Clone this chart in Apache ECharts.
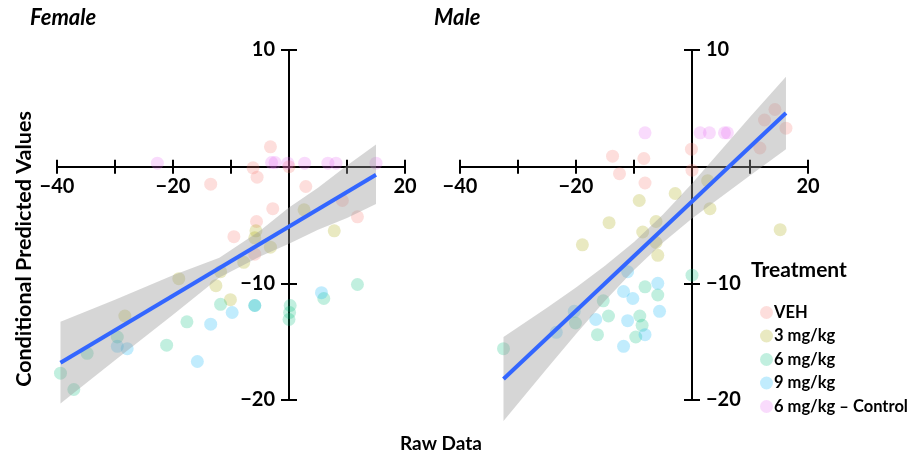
<!DOCTYPE html>
<html>
<head>
<meta charset="utf-8">
<script src="https://cdn.jsdelivr.net/npm/echarts@6/dist/echarts.min.js"></script>
<style>html,body{margin:0;padding:0;background:#fff}#c{width:920px;height:456px}</style>
</head>
<body>
<div id="c"></div>
<script>
// ---- data ----
const groups = ['VEH', '3 mg/kg', '6 mg/kg', '9 mg/kg', '6 mg/kg \u2013 Control'];
const xTicks = [-40, -20, 20];
const yTicks = [10, -10, -20];

const femVEH = [[-3.2,1.7],[-6.2,-0.1],[-5.5,-0.9],[-13.5,-1.5],[2.9,-1.7],[-2.8,-3.6],[-5.6,-4.7],[-9.5,-6.0],[9.2,-2.9],[11.8,-4.3],[-5.9,-7.5],[0,0]];
const femLow = [[2.6,-3.7],[7.8,-5.5],[-5.7,-5.5],[-5.9,-6.1],[-3.2,-6.9],[-7.8,-8.2],[-19.0,-9.6],[-12.6,-10.2],[-10.1,-11.4],[-28.3,-12.8],[-11.8,-9.0]];
const femMid = [[-11.8,-11.8],[-17.6,-13.3],[-21.1,-15.3],[-29.6,-14.6],[-34.8,-16.0],[-39.4,-17.7],[-37.1,-19.1],[0.2,-11.9],[0.1,-12.5],[0,-13.1],[11.8,-10.1],[-5.9,-11.9],[6.0,-11.3]];
const femHigh = [[-9.8,-12.5],[-13.5,-13.5],[-15.8,-16.7],[-29.6,-15.4],[-27.9,-15.6],[5.6,-10.8],[-5.9,-11.9]];
const femCtrl = [[-22.7,0.3],[-3.0,0.35],[-2.4,0.35],[-0.2,0.3],[2.7,0.3],[6.7,0.3],[8.1,0.3],[15.0,0.3]];

const maleVEH = [[-13.7,0.9],[-8.3,0.7],[-0.1,1.5],[-12.5,-0.6],[-8.1,-1.4],[0,-0.3],[11.7,1.6],[12.5,4.0],[14.3,4.9],[16.2,3.3]];
const maleLow = [[-2.9,-2.3],[-9.1,-2.9],[2.7,-1.2],[3.1,-3.6],[-14.3,-4.8],[-8.5,-5.6],[-6.2,-4.7],[-6.2,-6.5],[-5.9,-7.6],[15.2,-5.4],[-18.9,-6.7]];
const maleMid = [[0,-9.3],[-32.5,-15.6],[-20.1,-13.4],[-15.3,-11.5],[-14.4,-12.8],[-16.3,-14.4],[-9.0,-12.8],[-8.6,-13.6],[-9.7,-14.6],[-8.1,-10.3],[-5.9,-11.0]];
const maleHigh = [[-5.9,-10.0],[-11.8,-10.7],[-10.2,-11.3],[-5.6,-12.4],[-11.1,-13.2],[-16.6,-13.1],[-8.1,-14.4],[-11.8,-15.4],[-20.3,-12.4],[-23.4,-14.2],[-11.1,-9.0]];
const maleCtrl = [[-8.1,2.9],[1.4,2.9],[3.0,2.9],[5.6,2.9],[6.1,2.9]];

// fitted line and confidence band
const fitF = [[-39.4,-16.8],[15.0,-0.7]];
const bandXF = [-39.4,-30,-20,-12,-5,0,5,10,15];
const bandUF = [-13.3,-11.4,-9.3,-7.8,-5.5,-3.5,-1.8,0.1,1.9];
const bandLF = [-20.3,-16.6,-12.7,-9.5,-7.7,-6.6,-5.4,-4.4,-3.2];

const fitM = [[-32.5,-18.2],[16.2,4.6]];
const bandXM = [-32.5,-25,-20,-15,-10,-5,0,5,10,16.2];
const bandUM = [-14.6,-12.1,-10.35,-8.5,-6.45,-4.1,-1.45,1.4,4.25,7.7];
const bandLM = [-21.8,-17.3,-14.35,-11.5,-8.85,-6.5,-4.45,-2.6,-0.75,1.5];

// ---- style ----
const colors = ['rgba(248,118,109,0.3)','rgba(163,165,0,0.3)','rgba(0,191,125,0.3)','rgba(0,176,246,0.3)','rgba(231,107,243,0.3)'];
const FONT = 'Lato';
const minus = v => String(v).replace('-', '\u2212');
const X_MIN = -40, X_MAX = 20, Y_MIN = -20, Y_MAX = 10;
const GW = 348, GH = 350;
// offsets so that the axis lines cross at zero
const xOff = -GH * (0 - Y_MIN) / (Y_MAX - Y_MIN);
const yOffLeft = -GW * (0 - X_MIN) / (X_MAX - X_MIN);
const yOffRight = -GW * (X_MAX - 0) / (X_MAX - X_MIN);

const chart = echarts.init(document.getElementById('c'));

function xAxes(gridIndex) {
  const base = {
    type: 'value', gridIndex, min: X_MIN, max: X_MAX, interval: 10, position: 'bottom', offset: xOff,
    splitLine: { show: false },
    axisLine: { onZero: false, lineStyle: { color: '#000', width: 2 } },
  };
  return [
    Object.assign({}, base, {
      axisTick: { show: true, length: 7, lineStyle: { color: '#000', width: 2 } },
      axisLabel: { margin: 10, color: '#000', fontFamily: FONT, fontWeight: 'bold', fontSize: 20,
        formatter: v => xTicks.indexOf(v) >= 0 ? minus(v) : '' }
    }),
    Object.assign({}, base, {
      axisLine: { show: false, onZero: false },
      axisTick: { show: true, inside: true, length: 7, lineStyle: { color: '#000', width: 2 } },
      axisLabel: { show: false }
    })
  ];
}
function yAxes(gridIndex, pos, off) {
  const base = {
    type: 'value', gridIndex, min: Y_MIN, max: Y_MAX, interval: 10, position: pos, offset: off,
    splitLine: { show: false },
    axisLine: { onZero: false, lineStyle: { color: '#000', width: 2 } },
  };
  return [
    Object.assign({}, base, {
      axisTick: { show: true, length: 8, lineStyle: { color: '#000', width: 2 } },
      axisLabel: { margin: 14, color: '#000', fontFamily: FONT, fontWeight: 'bold', fontSize: 20,
        formatter: v => yTicks.indexOf(v) >= 0 ? minus(v) : '' }
    }),
    Object.assign({}, base, {
      axisLine: { show: false, onZero: false },
      axisTick: { show: true, inside: true, length: 8, lineStyle: { color: '#000', width: 2 } },
      axisLabel: { show: false }
    })
  ];
}

function scatter(name, data, ci, xi, yi) {
  return { type: 'scatter', name, data, xAxisIndex: xi, yAxisIndex: yi, symbol: 'circle', symbolSize: 13,
    itemStyle: { color: colors[ci] }, clip: false, silent: true, z: 2 };
}
function band(xs, us, ls, xi, yi) {
  return { type: 'custom', xAxisIndex: xi, yAxisIndex: yi, silent: true, z: 3, clip: false,
    data: [[0, 0]],
    renderItem: function (params, api) {
      const pts = [];
      for (let i = 0; i < xs.length; i++) pts.push(api.coord([xs[i], us[i]]));
      for (let i = xs.length - 1; i >= 0; i--) pts.push(api.coord([xs[i], ls[i]]));
      return { type: 'polygon', shape: { points: pts }, style: { fill: 'rgba(153,153,153,0.4)' } };
    } };
}
function fit(data, xi, yi) {
  return { type: 'line', data, xAxisIndex: xi, yAxisIndex: yi, symbol: 'none', clip: false, silent: true, z: 4,
    lineStyle: { color: '#3366FF', width: 4 } };
}

const femSets = [femVEH, femLow, femMid, femHigh, femCtrl];
const maleSets = [maleVEH, maleLow, maleMid, maleHigh, maleCtrl];
const series = [];
femSets.forEach((d, i) => series.push(scatter(groups[i], d, i, 0, 0)));
maleSets.forEach((d, i) => series.push(scatter(groups[i], d, i, 2, 2)));
series.push(band(bandXF, bandUF, bandLF, 0, 0));
series.push(band(bandXM, bandUM, bandLM, 2, 2));
series.push(fit(fitF, 0, 0));
series.push(fit(fitM, 2, 2));

const txt = (extra) => Object.assign({ fill: '#000', fontFamily: FONT, fontWeight: 'bold', fontSize: 19 }, extra);

chart.setOption({
  animation: false,
  backgroundColor: '#fff',
  grid: [
    { left: 57, top: 50, width: GW, height: GH },
    { left: 460, top: 50, width: GW, height: GH }
  ],
  xAxis: [...xAxes(0), ...xAxes(1)],
  yAxis: [...yAxes(0, 'left', yOffLeft), ...yAxes(1, 'right', yOffRight)],
  legend: {
    data: groups, orient: 'vertical', left: 755, top: 299, icon: 'circle',
    itemWidth: 13, itemHeight: 13, itemGap: 6.5, selectedMode: false,
    textStyle: { color: '#000', fontFamily: FONT, fontWeight: 'bold', fontSize: 16.5, lineHeight: 16, padding: [0,0,0,-4] }
  },
  graphic: [
    { type: 'text', left: 30, top: 7, style: txt({ text: 'Female', fontStyle: 'italic', fontSize: 22 }) },
    { type: 'text', left: 434, top: 7, style: txt({ text: 'Male', fontStyle: 'italic', fontSize: 22 }) },
    { type: 'text', x: 24, y: 249, rotation: Math.PI / 2, style: txt({ text: 'Conditional Predicted Values', align: 'center', verticalAlign: 'middle', fontSize: 21.5 }) },
    { type: 'text', x: 441, y: 444, style: txt({ text: 'Raw Data', align: 'center', verticalAlign: 'middle' }) },
    { type: 'text', left: 751, top: 260, style: txt({ text: 'Treatment', fontSize: 21 }) }
  ],
  series
});
</script>
</body>
</html>
